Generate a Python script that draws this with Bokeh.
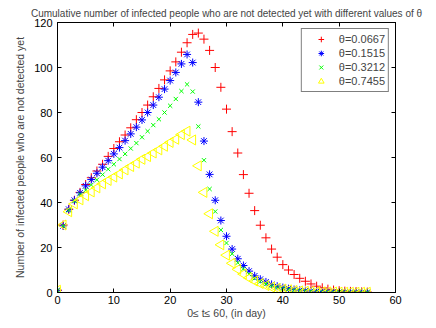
import numpy as np
from bokeh.plotting import figure
from bokeh.models import (LinearAxis, FixedTicker, Range1d, Legend, LegendItem,
                          ColumnDataSource, CustomJSTickFormatter)
from bokeh.embed import file_html
from bokeh.resources import INLINE

t = list(range(0, 56))

theta_labels = ["θ=0.0667", "θ=0.1515", "θ=0.3212", "θ=0.7455"]

red = [1, 30, 37, 41, 44.5, 48, 51, 54, 57, 60.5, 64, 67, 70, 73.2, 76.8, 80, 83.3, 87, 90.7,
       94.5, 98.5, 102.5, 106.8, 111, 114.7, 115.3, 112.6, 107.6, 100, 91.2, 81.5, 71.5, 62,
       52.4, 44.1, 36.4, 29.9, 24.3, 19.3, 15.7, 12.4, 10, 8, 6.3, 5, 3.8, 2.8, 2.1, 1.5,
       1.1, 0.8, 0.6, 0.5, 0.4, 0.3, 0.2]
blue = [1, 29.6, 37, 41, 44.3, 47.4, 50.2, 53, 55.7, 58.6, 61.6, 64.4, 67.5, 70.5, 73.5, 76.7,
        80, 83.3, 86.8, 90.4, 94.2, 97.8, 101.6, 105.8, 102.2, 84.6, 67.3, 52.5, 41, 32, 25,
        19.3, 15, 12, 9.5, 7.4, 5.9, 4.7, 3.6, 2.8, 2.2, 1.7, 1.3, 1.0, 0.8, 0.6, 0.5, 0.4,
        0.3, 0.25, 0.2, 0.15, 0.1, 0.1, 0.1, 0.1]
green = [1, 29.6, 36.5, 40.6, 43.6, 45.5, 47.8, 50.1, 52.4, 54.8, 57, 59.3, 61.6, 64, 66.4,
         69, 71.7, 74.4, 77, 80, 83, 86, 89.5, 92.5, 89.3, 73.8, 58.8, 46, 36, 27.8, 22, 17.2,
         13.2, 10.5, 8.2, 6.3, 4.9, 3.8, 2.9, 2.2, 1.7, 1.3, 1.0, 0.8, 0.6, 0.5, 0.4, 0.3,
         0.25, 0.2, 0.15, 0.1, 0.1, 0.1, 0.1, 0.1]
yellow = [1, 30, 35.9, 39.4, 41.2, 43, 44.7, 46.5, 48.3, 49.8, 51.3, 52.7, 54.5, 56, 57.5,
          59.2, 60.4, 62, 63.4, 65, 66.7, 68.1, 70.2, 71.7, 67.8, 56.3, 44.5, 35, 27.2, 21.2,
          16.6, 13, 10.3, 8.2, 6.5, 5.1, 4.0, 3.1, 2.4, 1.9, 1.5, 1.2, 0.9, 0.7, 0.55, 0.45,
          0.35, 0.3, 0.25, 0.2, 0.15, 0.1, 0.1, 0.1, 0.1, 0.1]

x_ticks = [0, 10, 20, 30, 40, 50, 60]
y_ticks = [0, 20, 40, 60, 80, 100, 120]

FONT = "Liberation Sans"

p = figure(width=436, height=328, output_backend="svg", toolbar_location=None,
           x_range=Range1d(0, 60), y_range=Range1d(0, 120),
           min_border_left=57, min_border_right=41, min_border_top=22, min_border_bottom=36,
           title="Cumulative number of infected people who are not detected yet with different values of θ")
p.title.text_font = FONT
p.title.text_font_size = "10px"
p.title.text_font_style = "normal"
p.title.align = "center"
p.title.standoff = 8
p.grid.visible = False
p.outline_line_color = "black"
p.background_fill_color = "white"
p.border_fill_color = "white"

p.xaxis[0].ticker = FixedTicker(ticks=x_ticks)
p.yaxis[0].ticker = FixedTicker(ticks=y_ticks)
for ax in [p.xaxis[0], p.yaxis[0]]:
    ax.major_tick_in = 4
    ax.major_tick_out = 0
    ax.minor_tick_line_color = None
    ax.axis_line_color = "black"
    ax.major_tick_line_color = "black"
    ax.major_label_text_font = FONT
    ax.major_label_text_font_size = "11px"
    ax.major_label_text_color = "black"
    ax.axis_label_text_font = FONT
    ax.axis_label_text_font_size = "10.5px"
    ax.axis_label_text_font_style = "normal"
p.xaxis[0].major_label_standoff = 3
p.xaxis[0].axis_label_standoff = 0
p.yaxis[0].major_label_standoff = 5
p.yaxis[0].axis_label_standoff = 5
p.xaxis[0].axis_label = "0≤ t≤ 60, (in day)"
p.yaxis[0].axis_label = "Number of infected people who are not detected yet"

top = LinearAxis(ticker=FixedTicker(ticks=x_ticks),
                 formatter=CustomJSTickFormatter(code="return ''"))
right = LinearAxis(ticker=FixedTicker(ticks=y_ticks),
                   formatter=CustomJSTickFormatter(code="return ''"))
for ax in [top, right]:
    ax.major_tick_in = 4
    ax.major_tick_out = 0
    ax.minor_tick_line_color = None
    ax.axis_line_color = "black"
    ax.major_tick_line_color = "black"
    ax.major_label_standoff = 0
p.add_layout(top, "above")
p.add_layout(right, "right")

src = ColumnDataSource(data=dict(t=t, red=red, blue=blue, green=green, yellow=yellow))

r1 = p.scatter("t", "red", source=src, marker="cross", size=9, line_color="#ff0000",
               line_width=1)
r2 = p.scatter("t", "blue", source=src, marker="asterisk", size=8, line_color="#0000ff",
               line_width=1)
r3 = p.scatter("t", "green", source=src, marker="x", size=6, line_color="#00ff00",
               line_width=1)
r4 = p.scatter("t", "yellow", source=src, marker="triangle", angle=np.pi / 2, size=10,
               line_color="#ffff00", fill_color=None, line_width=1)

legend = Legend(items=[LegendItem(label=lab, renderers=[r]) for lab, r in
                       zip(theta_labels, [r1, r2, r3, r4])],
                location="top_right")
legend.label_text_font = FONT
legend.label_text_font_size = "11px"
legend.border_line_color = "black"
legend.border_line_width = 1
legend.padding = 3
legend.spacing = 0
legend.margin = 6
legend.glyph_height = 14
legend.label_height = 14
legend.glyph_width = 32
legend.label_standoff = 2
legend.background_fill_alpha = 1
p.add_layout(legend, "center")

open("out.html", "w").write(file_html(p, INLINE))
